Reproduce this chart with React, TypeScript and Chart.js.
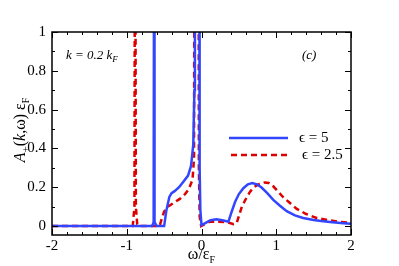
import React, { useEffect, useRef } from "react";
import { Chart, registerables } from "chart.js";

Chart.register(...registerables);

const blueX = [-2, -0.66, -0.64, -0.6335, -0.6315, -0.625, -0.6, -0.5, -0.47, -0.43, -0.4, -0.36, -0.3, -0.24, -0.18, -0.14, -0.11, -0.095, -0.088, -0.03, -0.025, -0.015, 0, 0.05, 0.12, 0.2, 0.28, 0.36, 0.4, 0.45, 0.5, 0.56, 0.62, 0.68, 0.74, 0.8, 0.88, 0.96, 1.05, 1.14, 1.25, 1.36, 1.5, 1.6, 1.75, 1.9, 2];
const blueY = [0, 0, 0.02, 2, 2, 0.02, 0, 0, 0.08, 0.15, 0.17, 0.18, 0.2, 0.23, 0.26, 0.31, 0.42, 0.7, 2, 2, 0.3, 0.08, 0.005, 0.015, 0.03, 0.035, 0.03, 0.022, 0.07, 0.125, 0.165, 0.195, 0.215, 0.222, 0.215, 0.2, 0.17, 0.135, 0.105, 0.077, 0.055, 0.042, 0.031, 0.026, 0.02, 0.015, 0.012];

const redX = [-2, -0.92, -0.897, -0.89, -0.887, -0.878, -0.86, -0.84, -0.56, -0.53, -0.5, -0.45, -0.37, -0.29, -0.22, -0.17, -0.12, -0.1, -0.093, -0.04, -0.035, -0.025, -0.005, 0.05, 0.11, 0.2, 0.34, 0.43, 0.47, 0.54, 0.6, 0.65, 0.7, 0.76, 0.85, 0.9, 0.96, 1.02, 1.09, 1.18, 1.27, 1.4, 1.54, 1.7, 1.85, 2];
const redY = [0, 0, 0.1, 2, 2, 0.1, 0.01, 0, 0, 0.04, 0.075, 0.1, 0.12, 0.14, 0.165, 0.19, 0.24, 0.35, 2, 2, 0.3, 0.05, 0, 0.012, 0.022, 0.022, 0.02, 0.01, 0.015, 0.1, 0.145, 0.177, 0.2, 0.215, 0.225, 0.222, 0.205, 0.18, 0.15, 0.12, 0.09, 0.062, 0.042, 0.03, 0.022, 0.017];

const seriesLabels = ["\u03F5 = 5", "\u03F5 = 2.5"];
const xTicks = [-2, -1, 0, 1, 2];
const yTicks = [0, 0.2, 0.4, 0.6, 0.8, 1];

const BLUE = "rgb(50,70,255)";
const RED = "rgb(220,0,0)";
const SERIF = "Liberation Serif";

const framePlugin = {
  id: "frame",
  afterDatasetsDraw(chart: any) {
    const { ctx, chartArea: a, scales } = chart;
    const xs = scales.x;
    const ys = scales.y;
    ctx.save();
    ctx.strokeStyle = "#000";
    ctx.lineWidth = 1.5;
    ctx.strokeRect(a.left, a.top, a.right - a.left, a.bottom - a.top);
    ctx.lineWidth = 1;
    ctx.beginPath();
    for (let i = 0; i <= 20; i++) {
      const v = -2 + i * 0.2;
      const px = Math.round(xs.getPixelForValue(v)) + 0.5;
      const major = Math.abs(v - Math.round(v)) < 1e-6;
      const len = major ? 6 : 3;
      ctx.moveTo(px, a.bottom);
      ctx.lineTo(px, a.bottom - len);
      ctx.moveTo(px, a.top);
      ctx.lineTo(px, a.top + len);
    }
    for (let i = 0; i <= 11; i++) {
      const v = i * 0.1;
      if (v > 1.0001) continue;
      const py = Math.round(ys.getPixelForValue(v)) + 0.5;
      const major = i % 2 === 0;
      const len = major ? 6 : 3;
      ctx.moveTo(a.left, py);
      ctx.lineTo(a.left + len, py);
      ctx.moveTo(a.right, py);
      ctx.lineTo(a.right - len, py);
    }
    ctx.stroke();

    // legend
    const ds = chart.data.datasets;
    const rows = [
      { y: 138, x0: 229, x1: 288, tx: 299, dash: [] as number[] },
      { y: 155, x0: 231, x1: 290, tx: 302, dash: [6, 4] },
    ];
    rows.forEach((r, i) => {
      ctx.beginPath();
      ctx.setLineDash(r.dash);
      ctx.strokeStyle = ds[i].borderColor;
      ctx.lineWidth = 2.5;
      ctx.moveTo(r.x0, r.y);
      ctx.lineTo(r.x1, r.y);
      ctx.stroke();
      ctx.setLineDash([]);
      ctx.fillStyle = "#000";
      ctx.font = `15px "${SERIF}"`;
      ctx.textBaseline = "middle";
      ctx.textAlign = "left";
      ctx.fillText(ds[i].label, r.tx, r.y);
    });

    // annotations
    ctx.font = `italic 13px "${SERIF}"`;
    ctx.textBaseline = "alphabetic";
    ctx.fillText("k = 0.2 k", 66, 59);
    const w = ctx.measureText("k = 0.2 k").width;
    ctx.font = `italic 9px "${SERIF}"`;
    ctx.fillText("F", 66 + w, 62);
    ctx.font = `italic 13px "${SERIF}"`;
    ctx.fillText("(c)", 302, 59);

    // x title
    ctx.font = `16px "${SERIF}"`;
    const t1 = "\u03C9/\u03B5";
    const w1 = ctx.measureText(t1).width;
    ctx.font = `10px "${SERIF}"`;
    const w2 = ctx.measureText("F").width;
    const cx = (a.left + a.right) / 2;
    const x0 = cx - (w1 + w2) / 2;
    ctx.font = `16px "${SERIF}"`;
    ctx.fillText(t1, x0, 259);
    ctx.font = `10px "${SERIF}"`;
    ctx.fillText("F", x0 + w1, 263);

    // y title
    ctx.save();
    ctx.translate(20, 130);
    ctx.rotate(-Math.PI / 2);
    const parts = [
      { t: "A", f: `italic 16px "${SERIF}"`, dy: 0 },
      { t: "+", f: `11px "${SERIF}"`, dy: 4 },
      { t: "(", f: `16px "${SERIF}"`, dy: 0 },
      { t: "k", f: `italic 16px "${SERIF}"`, dy: 0 },
      { t: ",\u03C9) \u03B5", f: `16px "${SERIF}"`, dy: 0 },
      { t: "F", f: `10px "${SERIF}"`, dy: 4 },
    ];
    let total = 0;
    const widths = parts.map((p) => {
      ctx.font = p.f;
      const ww = ctx.measureText(p.t).width;
      total += ww;
      return ww;
    });
    let px = -total / 2;
    parts.forEach((p, i) => {
      ctx.font = p.f;
      ctx.fillText(p.t, px, 5 + p.dy);
      px += widths[i];
    });
    ctx.restore();
    ctx.restore();
  },
};

export default function App() {
  const ref = useRef<HTMLCanvasElement>(null);
  useEffect(() => {
    document.body.style.margin = "0";
    const chart = new Chart(ref.current!, {
      type: "line",
      data: {
        datasets: [
          {
            label: seriesLabels[0],
            data: blueX.map((x, i) => ({ x, y: blueY[i] })),
            borderColor: BLUE,
            borderWidth: 2.5,
            pointRadius: 0,
            tension: 0,
            fill: false,
          },
          {
            label: seriesLabels[1],
            data: redX.map((x, i) => ({ x, y: redY[i] })),
            borderColor: RED,
            borderWidth: 2.5,
            borderDash: [6, 4],
            pointRadius: 0,
            tension: 0,
            fill: false,
          },
        ],
      },
      options: {
        animation: false,
        responsive: false,
        maintainAspectRatio: false,
        layout: { padding: { left: 0, right: 48, top: 32, bottom: 0 } },
        plugins: { legend: { display: false }, tooltip: { enabled: false } },
        scales: {
          x: {
            type: "linear",
            min: -2,
            max: 2,
            afterFit: (s: any) => { s.height = 31; },
            afterBuildTicks: (s: any) => { s.ticks = xTicks.map((v) => ({ value: v })); },
            grid: { display: false, drawTicks: false },
            border: { display: false },
            ticks: {
              padding: 2,
              color: "#000",
              font: { family: `"${SERIF}"`, size: 15 },
              callback: (v: any) => String(v),
            },
          },
          y: {
            type: "linear",
            min: -0.046,
            max: 1,
            afterFit: (s: any) => { s.width = 52; },
            afterBuildTicks: (s: any) => { s.ticks = yTicks.map((v) => ({ value: v })); },
            grid: { display: false, drawTicks: false },
            border: { display: false },
            ticks: {
              padding: 6,
              color: "#000",
              font: { family: `"${SERIF}"`, size: 15 },
              callback: (v: any) => String(Math.round(v * 10) / 10),
            },
          },
        },
      },
      plugins: [framePlugin],
    } as any);
    let alive = true;
    document.fonts.load(`15px "${SERIF}"`).then(() => {
      if (alive) chart.update();
    });
    return () => {
      alive = false;
      chart.destroy();
    };
  }, []);
  return (
    <div style={{ position: "absolute", left: 0, top: 0, width: 399, height: 266 }}>
      <canvas ref={ref} width={399} height={266} />
    </div>
  );
}
